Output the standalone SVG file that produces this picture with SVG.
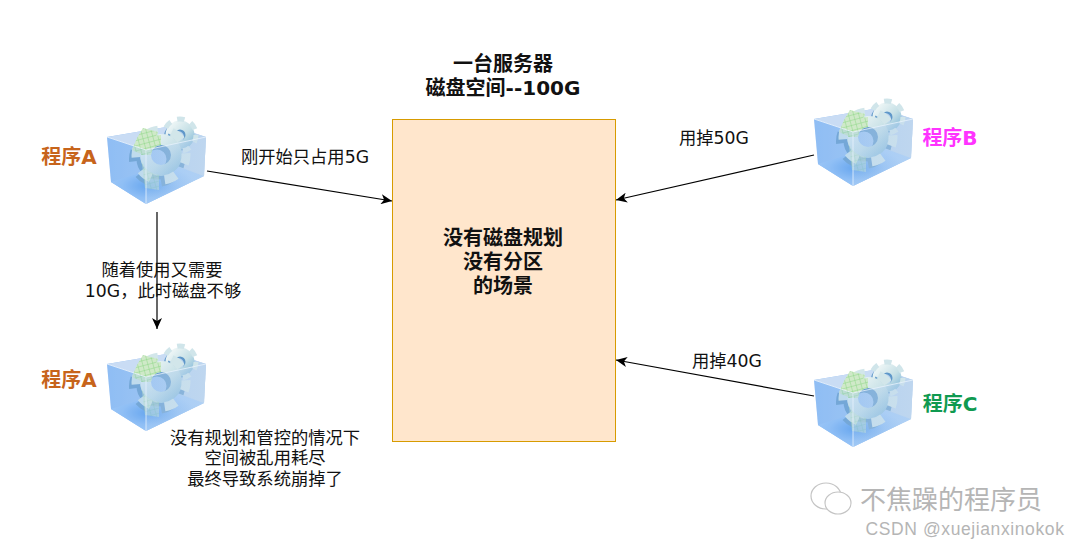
<svg xmlns="http://www.w3.org/2000/svg" width="1080" height="549" viewBox="0 0 1080 549">
<style>
text{font-family:"DejaVu Sans","Noto Sans CJK SC",sans-serif;text-anchor:middle;fill:#111}
.t{font-size:17.300px}
.b{font-size:20px;font-weight:bold}
.c{fill:none;stroke:#000;stroke-width:1.2;marker-end:url(#ah)}
.wm{fill:#b5b5b5;stroke:none;font-family:"Liberation Sans","Noto Sans CJK SC",sans-serif}
</style>
<defs>
<marker id="ah" markerUnits="userSpaceOnUse" markerWidth="12" markerHeight="10" refX="11" refY="5" orient="auto"><path d="M0 0L11 5L0 10L3 5Z" fill="#000"/></marker>
<linearGradient id="front" x1="0" y1="0" x2="1" y2="0"><stop offset="0" stop-color="#8fbdf4"/><stop offset="1" stop-color="#b4d1f1"/></linearGradient>
<linearGradient id="right" x1="0" y1="0" x2="1" y2="0"><stop offset="0" stop-color="#a7cbf2"/><stop offset="1" stop-color="#c2d8ef"/></linearGradient>
<radialGradient id="floor" cx=".42" cy=".55" r=".5"><stop offset="0" stop-color="#559bec"/><stop offset=".6" stop-color="#8fbff6"/><stop offset="1" stop-color="#a3cbf8"/></radialGradient>
<linearGradient id="gear" x1="0" y1="0" x2="1" y2="1"><stop offset="0" stop-color="#eef6f6"/><stop offset=".6" stop-color="#c6e0e6"/><stop offset="1" stop-color="#8fc0dc"/></linearGradient>
<pattern id="mesh" width="5" height="5" patternUnits="userSpaceOnUse" patternTransform="rotate(-15)"><rect width="5" height="5" fill="#cfe9c8"/><path d="M0 0H5M0 0V5" stroke="#86d67e" stroke-width=".9"/></pattern>
<g id="icon">
<path d="M0 15L65 4L99 15L97 54L39 82L4 60Z" fill="url(#front)"/>
<path d="M4 60L62 42L97 54L39 82Z" fill="url(#floor)"/>
<path d="M0 15L65 4L99 15L39 28Z" fill="#c9dcf4"/>
<path d="M65 4L99 15L97 54L65 42Z" fill="#bcd5ef"/>
<g fill="none">
<circle cx="71" cy="15" r="10" stroke="#5f97c9" stroke-width="8"/>
<circle cx="73" cy="13" r="10" stroke="url(#gear)" stroke-width="9"/>
<circle cx="73" cy="13" r="16" stroke="#d0e5ea" stroke-width="5" stroke-dasharray="7.500 6.900"/>
<circle cx="50" cy="37" r="15" stroke="#6a9fcc" stroke-width="11"/>
<circle cx="50" cy="37" r="24" stroke="#6a9fcc" stroke-width="8" stroke-dasharray="11 14.100" stroke-dashoffset="3"/>
<circle cx="54" cy="33" r="15.500" stroke="url(#gear)" stroke-width="11"/>
<circle cx="54" cy="33" r="25" stroke="#d2e6ea" stroke-width="9" stroke-dasharray="12 14.200" stroke-dashoffset="3"/>
<path d="M54 13A20 20 0 0 0 34 33L44 33A10 10 0 0 1 54 23Z" fill="url(#mesh)"/>
<path d="M36 6L51 10L47 20L34 32L25 28L30 16Z" fill="url(#mesh)"/>
<path d="M34 36A20 20 0 0 0 52 53L52 68L38 66L36 50Z" fill="url(#mesh)" opacity=".5"/>
</g>
<path d="M0 15L39 28L39 82L4 60Z" fill="#8fbdf4" opacity=".28"/>
<path d="M39 28L99 15L97 54L39 82Z" fill="url(#right)" opacity=".4"/>
<path d="M0 15L39 28L99 15M39 28L39 82" fill="none" stroke="#e8f2fc" stroke-width=".8"/>
</g>
</defs>
<rect width="1080" height="549" fill="#fff"/>
<g id="connectors">
<path class="c" d="M207 171L392 201"/>
<path class="c" d="M157 212L157 329"/>
<path class="c" d="M814 155L616 200"/>
<path class="c" d="M814 396L616 360"/>
</g>
<g id="server-title"><text class="b" x="503" y="71">一台服务器</text><text class="b" x="503" y="95">磁盘空间--100G</text></g>
<g id="server">
<rect x="392.500" y="119.500" width="223" height="322" fill="#ffe6cc" stroke="#d79b00"/>
<text class="b" x="503" y="245">没有磁盘规划</text><text class="b" x="503" y="269">没有分区</text><text class="b" x="503" y="293">的场景</text>
</g>
<g id="program-a"><use href="#icon" x="107" y="122"/><text class="b" x="69" y="164" style="fill:#c7641b">程序A</text></g>
<g id="program-a2"><use href="#icon" x="107" y="349"/><text class="b" x="69" y="387" style="fill:#c7641b">程序A</text></g>
<g id="program-b"><use href="#icon" x="814" y="104"/><text class="b" x="950" y="145" style="fill:#ff33ff">程序B</text></g>
<g id="program-c"><use href="#icon" x="814" y="365"/><text class="b" x="950" y="411" style="fill:#0f9a50">程序C</text></g>
<g id="labels">
<text class="t" x="305" y="163">刚开始只占用5G</text>
<text class="t" x="714" y="144">用掉50G</text>
<text class="t" x="727" y="367">用掉40G</text>
<text class="t" x="162" y="276">随着使用又需要</text>
<text class="t" x="163" y="297">10G，此时磁盘不够</text>
<text class="t" x="265" y="444">没有规划和管控的情况下</text>
<text class="t" x="265" y="464">空间被乱用耗尽</text>
<text class="t" x="265" y="485">最终导致系统崩掉了</text>
</g>
<g id="watermark">
<ellipse cx="826" cy="496" rx="15" ry="13" fill="#fff" stroke="#c4c4c4" stroke-width="1.2"/>
<ellipse cx="838" cy="503" rx="13" ry="11" fill="#fff" stroke="#c4c4c4" stroke-width="1.2"/>
<text class="wm" x="951" y="509" style="font-size:26px">不焦躁的程序员</text>
<text class="wm" x="965" y="535" style="font-size:17.500px;letter-spacing:.6px">CSDN @xuejianxinokok</text>
</g>
</svg>
